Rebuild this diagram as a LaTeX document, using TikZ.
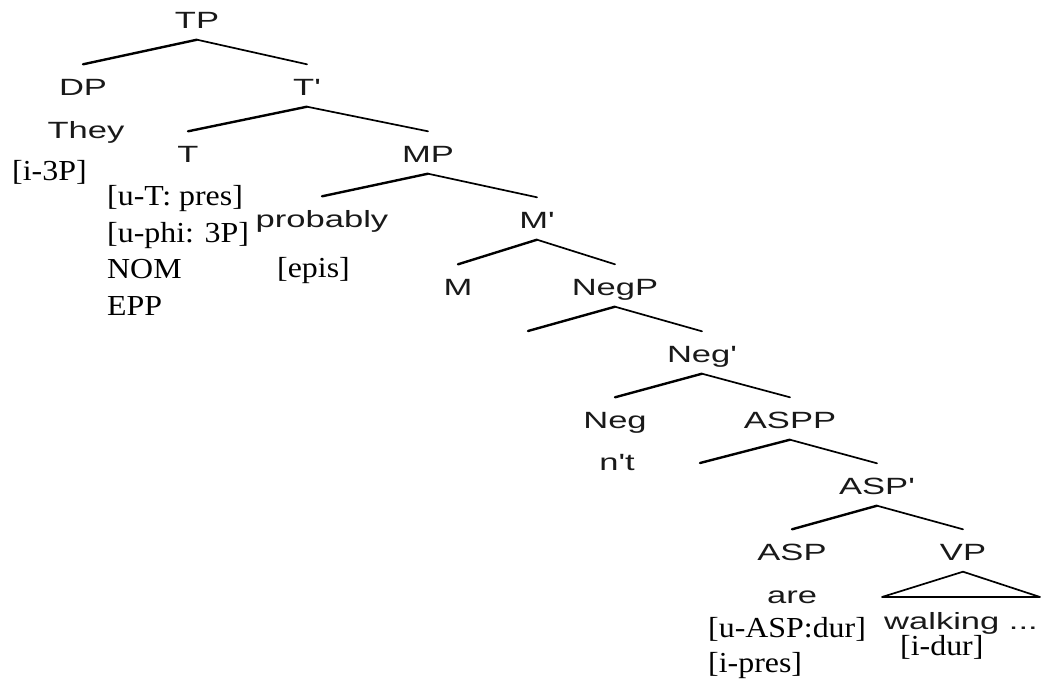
\documentclass[tikz,border=0pt]{standalone}
\usepackage{fontspec}
\newfontfamily\treefont[FakeStretch=1.47]{Liberation Sans}
\newfontfamily\featfont[FakeStretch=1.1]{Liberation Serif}
\begin{document}
\begin{tikzpicture}[x=1pt,y=-1pt,
  cat/.style={font=\treefont\fontsize{23.5}{23.5}\selectfont, text=black!90,
    anchor=base, inner xsep=0pt, inner ysep=0pt,
    text height=30.5pt, text depth=11.5pt},
  word/.style={font=\treefont\fontsize{23.5}{23.5}\selectfont, text=black!90,
    anchor=base, inner sep=0pt},
  feat/.style={font=\featfont\fontsize{29}{29}\selectfont,
    anchor=base west, inner sep=0pt},
  lbranch/.style={draw=black, line width=2.4pt, line cap=round},
  rbranch/.style={draw=black, line width=1.7pt, line cap=round}]
\useasboundingbox (0,0) rectangle (1042,681);

% category labels
\node[cat] (TP)    at (197,28)  {TP};
\node[cat] (DP)    at (83,95)   {DP};
\node[cat] (Tbar)  at (307,95)  {T'};
\node[cat] (T)     at (188,162) {T};
\node[cat] (MP)    at (428,162) {MP};
\node[cat] (prob)  at (322,227) {probably};
\node[cat] (Mbar)  at (537,228) {M'};
\node[cat] (M)     at (458,295) {M};
\node[cat] (NegP)  at (615,295) {NegP};
\node[cat] (Negbar) at (702,362) {Neg'};
\node[cat] (Neg)   at (615,428) {Neg};
\node[cat] (ASPP)  at (790,428) {ASPP};
\node[cat] (ASPbar) at (877,494) {ASP'};
\node[cat] (ASP)   at (792,560) {ASP};
\node[cat] (VP)    at (963,560) {VP};

% empty specifier positions
\coordinate (negspec) at (528,331);
\coordinate (aspspec) at (700,463);
% base of the VP triangle
\coordinate (vpL) at (882,597);
\coordinate (vpR) at (1040,597);

% lexical items
\node[word] (they) at (86,138)  {They};
\node[word] (nt)   at (617,470) {n't};
\node[word] (are)  at (792,603) {are};
\node[word] (walk) at (961,629) {walking ...};

% feature annotations
\node[feat] (f3p)   at (12,180)  {[i-3P]};
\node[feat] (fut)   at (107,205) {[u-T: pres]};
\node[feat] (fuphi) at (107,242) {[u-phi: 3P]};
\node[feat] (fnom)  at (107,278) {NOM};
\node[feat] (fepp)  at (107,315) {EPP};
\node[feat] (fepis) at (277,277) {[epis]};
\node[feat] (fuasp) at (708,637) {[u-ASP:dur]};
\node[feat] (fipr)  at (708,672) {[i-pres]};
\node[feat] (fidur) at (900,655) {[i-dur]};

% branches
\draw[lbranch] (TP.south) -- (DP.north);
\draw[rbranch] (TP.south) -- (Tbar.north);
\draw[lbranch] (Tbar.south) -- (T.north);
\draw[rbranch] (Tbar.south) -- (MP.north);
\draw[lbranch] (MP.south) -- (prob.north);
\draw[rbranch] (MP.south) -- (Mbar.north);
\draw[lbranch] (Mbar.south) -- (M.north);
\draw[rbranch] (Mbar.south) -- (NegP.north);
\draw[lbranch] (NegP.south) -- (negspec);
\draw[rbranch] (NegP.south) -- (Negbar.north);
\draw[lbranch] (Negbar.south) -- (Neg.north);
\draw[rbranch] (Negbar.south) -- (ASPP.north);
\draw[lbranch] (ASPP.south) -- (aspspec);
\draw[rbranch] (ASPP.south) -- (ASPbar.north);
\draw[lbranch] (ASPbar.south) -- (ASP.north);
\draw[rbranch] (ASPbar.south) -- (VP.north);
\draw[rbranch, line join=round] (VP.south) -- (vpL) -- (vpR) -- cycle;
\end{tikzpicture}
\end{document}
